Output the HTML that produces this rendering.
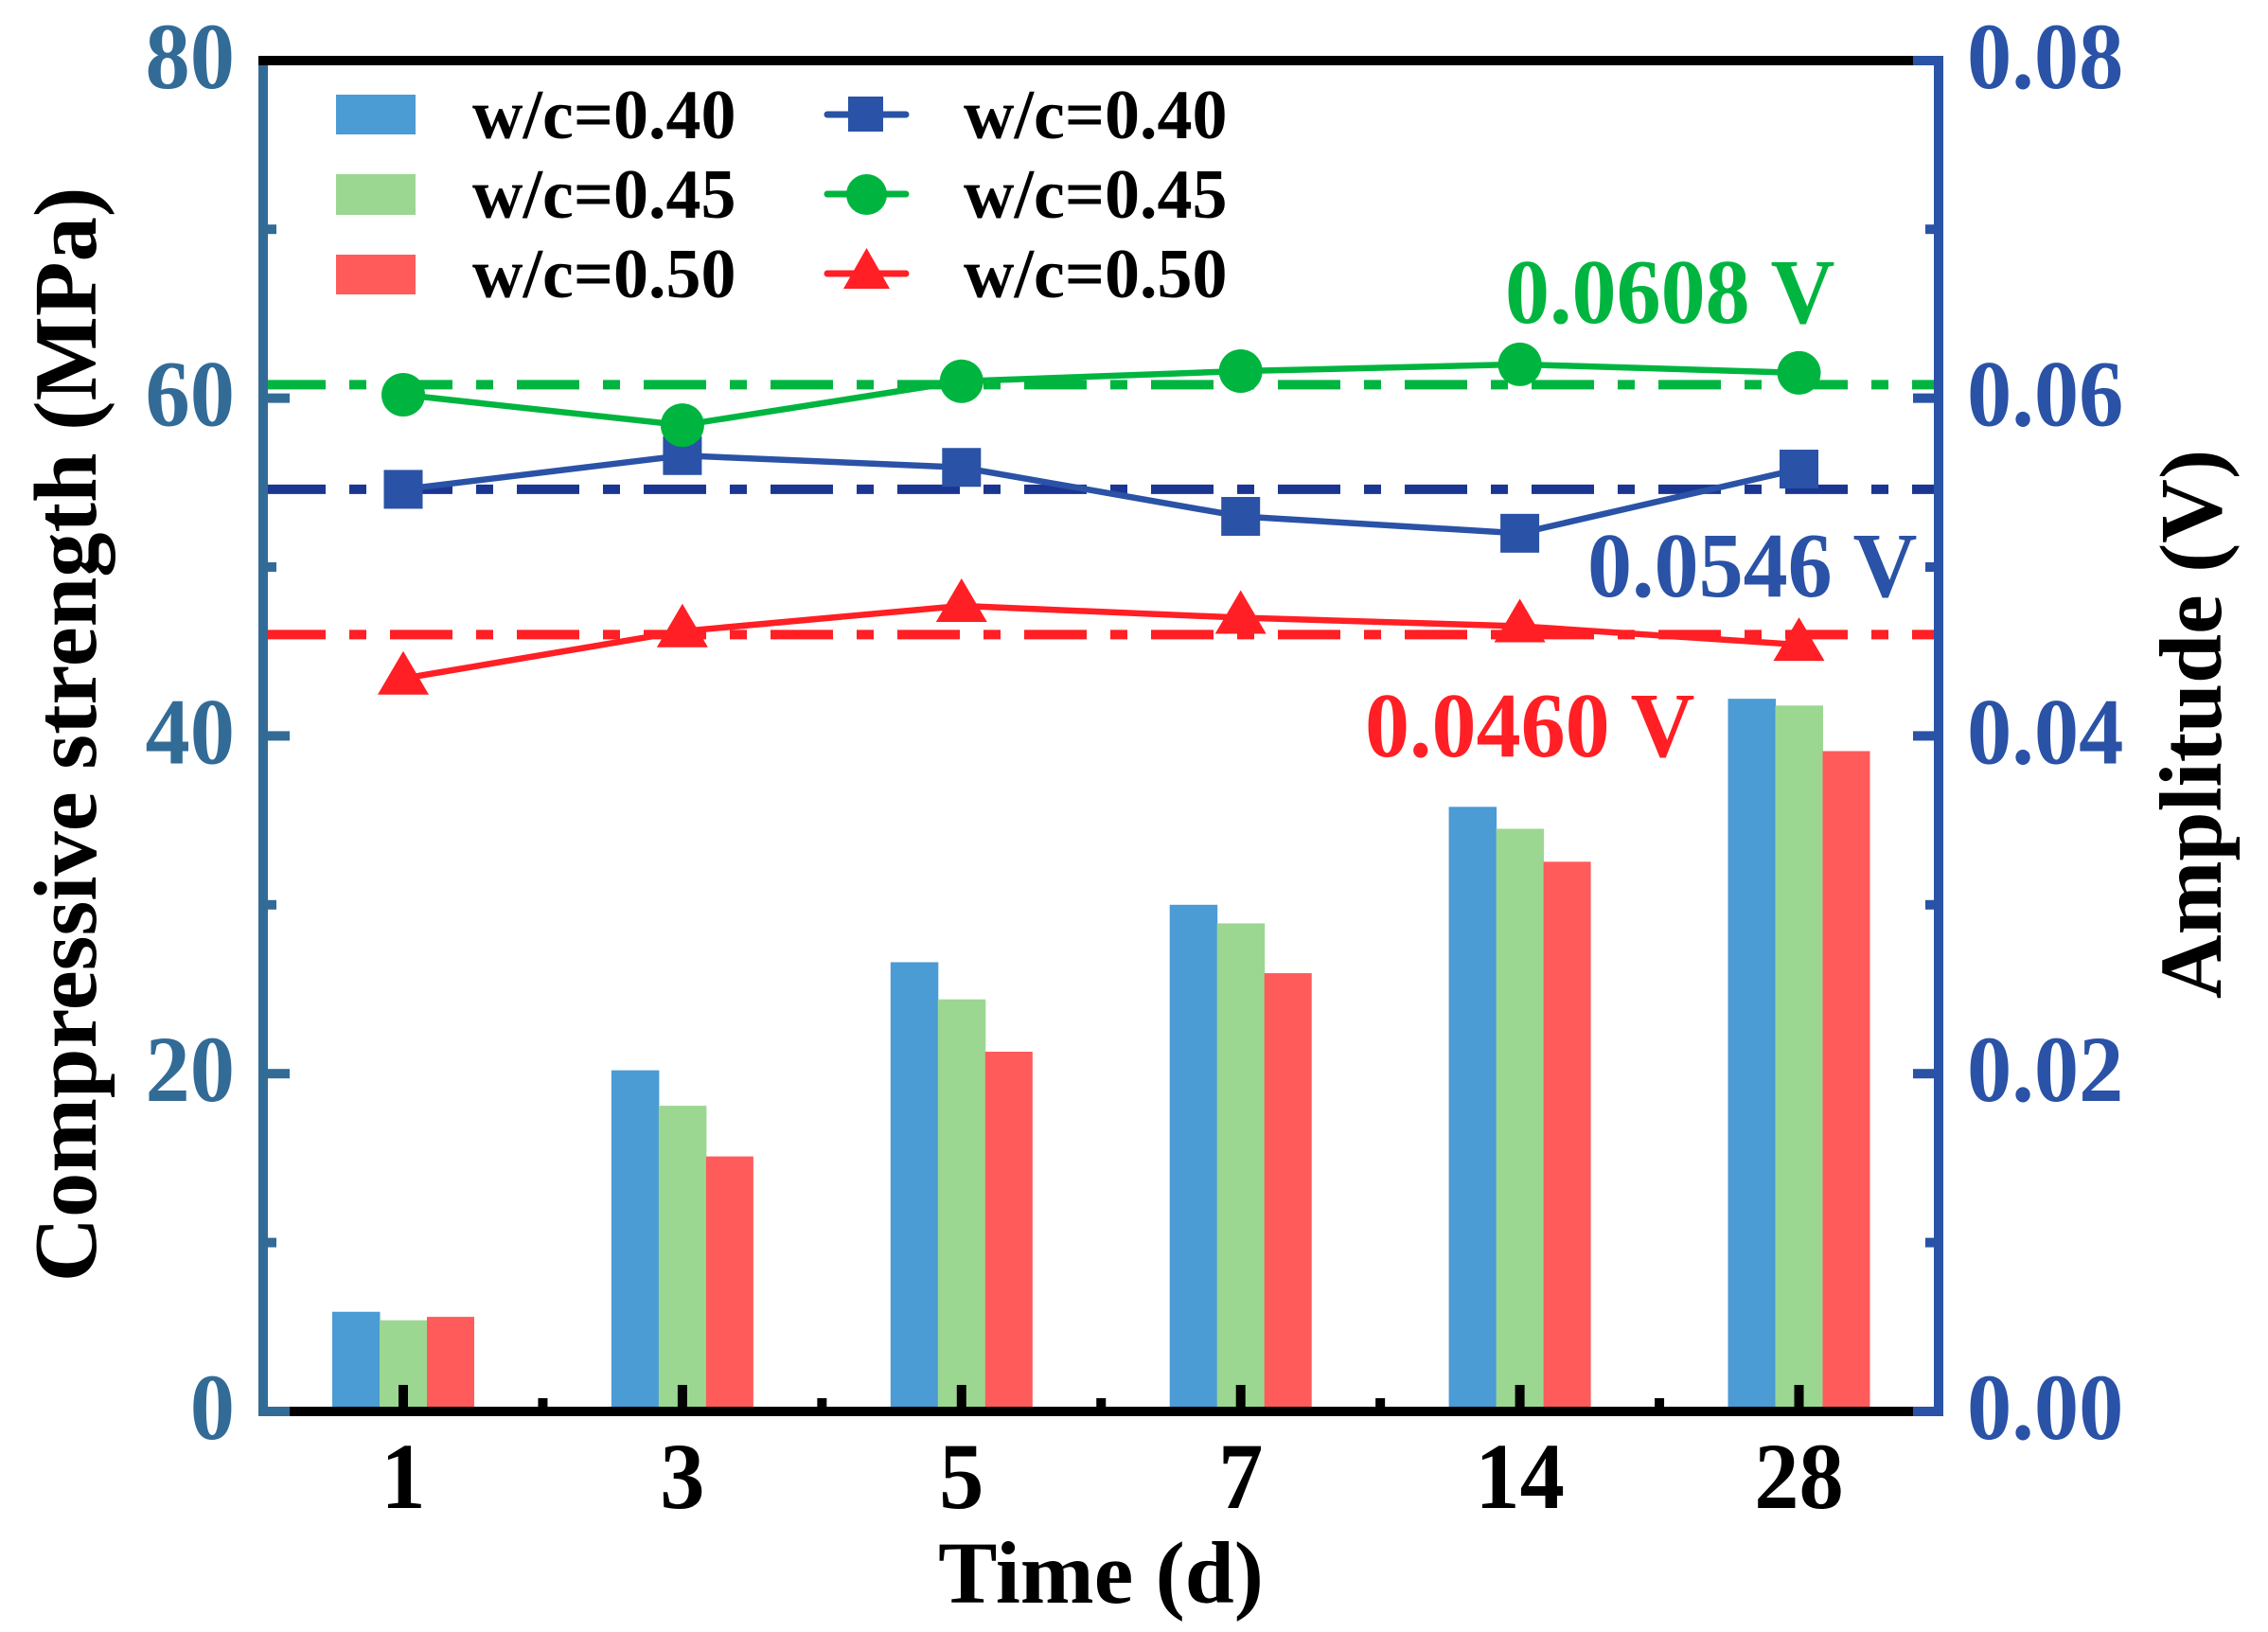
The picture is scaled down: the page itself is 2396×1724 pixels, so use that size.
<!DOCTYPE html>
<html lang="en">
<head>
<meta charset="utf-8">
<title>Compressive strength and amplitude over time</title>
<style>
html,body{margin:0;padding:0;background:#fff;width:2396px;height:1724px;overflow:hidden}
svg{display:block}
text{font-family:"Liberation Serif",serif;font-weight:bold}
</style>
</head>
<body>
<svg id="chart" xmlns="http://www.w3.org/2000/svg" width="2396" height="1724" viewBox="0 0 2396 1724">
  <rect x="0" y="0" width="2396" height="1724" fill="#ffffff"/>
  <g id="bars"></g>
  <g id="ref-lines"></g>
  <g id="series"></g>
  <g id="axes"></g>

  <text x="1163" y="1693" font-size="93.5" text-anchor="middle" fill="#000">Time (d)</text>
  <text transform="translate(101 776) rotate(-90)" font-size="94.5" text-anchor="middle" fill="#000">Compressive strength (MPa)</text>
  <text transform="translate(2346 765) rotate(-90)" font-size="93.7" text-anchor="middle" fill="#000">Amplitude (V)</text>

  <text transform="translate(1590 341) scale(0.97 1)" font-size="97" fill="#00b53f">0.0608 V</text>
  <text transform="translate(1677 630) scale(0.97 1)" font-size="97" fill="#2a52a6">0.0546 V</text>
  <text transform="translate(1442 799) scale(0.97 1)" font-size="97" fill="#ff1f24">0.0460 V</text>

  <g>
    <rect x="355" y="100" width="84" height="42" fill="#4b9bd5"/>
    <rect x="355" y="184" width="84" height="43" fill="#9cd792"/>
    <rect x="355" y="269" width="84" height="42" fill="#ff5b5b"/>
    <text x="499" y="146" font-size="74">w/c=0.40</text>
    <text x="499" y="230" font-size="74">w/c=0.45</text>
    <text x="499" y="314" font-size="74">w/c=0.50</text>

    <line x1="874" x2="957" y1="121" y2="121" stroke="#2a52a6" stroke-width="7" stroke-linecap="round"/>
    <rect x="896" y="102" width="37" height="37" fill="#2a52a6"/>
    <line x1="874" x2="957" y1="205" y2="205" stroke="#00b53f" stroke-width="7" stroke-linecap="round"/>
    <circle cx="915.5" cy="205.5" r="21.5" fill="#00b53f"/>
    <line x1="874" x2="957" y1="289" y2="289" stroke="#ff1f24" stroke-width="7" stroke-linecap="round"/>
    <polygon points="915.5,262 940,305 891,305" fill="#ff1f24"/>
    <text x="1018" y="146" font-size="74">w/c=0.40</text>
    <text x="1018" y="230" font-size="74">w/c=0.45</text>
    <text x="1018" y="314" font-size="74">w/c=0.50</text>
  </g>
</svg>

<script>
const categories = ['1', '3', '5', '7', '14', '28'];
const strength040 = [5.9, 20.2, 26.6, 30.0, 35.8, 42.2];
const strength045 = [5.4, 18.1, 24.4, 28.9, 34.5, 41.8];
const strength050 = [5.6, 15.1, 21.3, 25.95, 32.55, 39.1];
const amplitude040 = [0.0546, 0.0566, 0.0559, 0.0530, 0.0520, 0.0558];
const amplitude045 = [0.0602, 0.0584, 0.0610, 0.0616, 0.0620, 0.0615];
const amplitude050 = [0.0434, 0.0462, 0.0477, 0.0470, 0.0465, 0.0454];
const meanAmplitude040 = 0.0546;
const meanAmplitude045 = 0.0608;
const meanAmplitude050 = 0.0460;
const leftTicks = [0, 20, 40, 60, 80];
const leftTickLabels = ['0', '20', '40', '60', '80'];
const leftMinorTicks = [10, 30, 50, 70];
const rightTicks = [0, 0.02, 0.04, 0.06, 0.08];
const rightTickLabels = ['0.00', '0.02', '0.04', '0.06', '0.08'];
const rightMinorTicks = [0.01, 0.03, 0.05, 0.07];

const NS = 'http://www.w3.org/2000/svg';
const LEFT_AXIS = '#336b97';
const RIGHT_AXIS = '#2a52a6';
const GREEN = '#00b53f';
const RED = '#ff1f24';
const TICK_FONT = 100;
const TICK_SQUEEZE = 0.945;

function xAt(i) { return 426 + i * 294.9; }
function yLeft(v) { return 1491 - v * 17.84; }
function yRight(v) { return 1491 - v * 17840; }

function make(tag, attrs, parent) {
  const el = document.createElementNS(NS, tag);
  Object.keys(attrs).forEach(function (k) { el.setAttribute(k, attrs[k]); });
  parent.appendChild(el);
  return el;
}

function squeezed(x, y) {
  return 'translate(' + x + ' ' + y + ') scale(' + TICK_SQUEEZE + ' 1)';
}

const barsGroup = document.getElementById('bars');
const refGroup = document.getElementById('ref-lines');
const seriesGroup = document.getElementById('series');
const axesGroup = document.getElementById('axes');

/* bars */
const BAR_W = 50;
[[strength040, '#4b9bd5', '040'], [strength045, '#9cd792', '045'], [strength050, '#ff5b5b', '050']].forEach(function (s, j) {
  s[0].forEach(function (v, i) {
    const el = make('rect', {
      x: xAt(i) - 75 + j * BAR_W,
      y: yLeft(v),
      width: BAR_W + (j < 2 ? 0.5 : 0),
      height: yLeft(0) - yLeft(v),
      fill: s[1]
    }, barsGroup);
    
    
  });
});

/* mean reference lines */
[[meanAmplitude045, GREEN, '045'], [meanAmplitude040, '#1b3692', '040'], [meanAmplitude050, RED, '050']].forEach(function (s) {
  const el = make('line', {
    x1: 278, x2: 2043, y1: yRight(s[0]), y2: yRight(s[0]),
    stroke: s[1], 'stroke-width': 10, 'stroke-dasharray': '66 25 18 25'
  }, refGroup);
  
  
});

/* line series */
function polyline(values, color, key) {
  const pts = values.map(function (v, i) { return xAt(i) + ',' + yRight(v); }).join(' ');
  const el = make('polyline', { points: pts, fill: 'none', stroke: color, 'stroke-width': 6.5 }, seriesGroup);
  
  
}
polyline(amplitude040, RIGHT_AXIS, '040');
polyline(amplitude045, GREEN, '045');
polyline(amplitude050, RED, '050');

amplitude040.forEach(function (v, i) {
  const el = make('rect', { x: xAt(i) - 20.5, y: yRight(v) - 20.5, width: 41, height: 41, fill: RIGHT_AXIS }, seriesGroup);
  
  
});
amplitude045.forEach(function (v, i) {
  const el = make('circle', { cx: xAt(i), cy: yRight(v), r: 23, fill: GREEN }, seriesGroup);
  
  
});
amplitude050.forEach(function (v, i) {
  const cx = xAt(i), cy = yRight(v);
  const pts = cx + ',' + (cy - 29) + ' ' + (cx + 27) + ',' + (cy + 17) + ' ' + (cx - 27) + ',' + (cy + 17);
  const el = make('polygon', { points: pts, fill: RED }, seriesGroup);
  
  
});

/* spines */
function box(x, y, w, h, fill, name) {
  const el = make('rect', { x: x, y: y, width: w, height: h, fill: fill }, axesGroup);
  
  
}
box(273, 59, 10, 1437, LEFT_AXIS, 'left-y-axis-line');
box(2043, 59, 10, 1437, RIGHT_AXIS, 'right-y-axis-line');
box(273, 59, 1748, 10, '#000000', 'top-axis-line');
box(2021, 59, 32, 10, RIGHT_AXIS, 'top-axis-right-cap');
box(306, 1486, 1715, 10, '#000000', 'x-axis-line');
box(273, 1486, 33, 10, LEFT_AXIS, 'x-axis-left-cap');
box(2021, 1486, 32, 10, RIGHT_AXIS, 'x-axis-right-cap');

/* left ticks */
leftTicks.forEach(function (v, i) {
  if (v !== 0 && v !== 80) {
    box(283, yLeft(v) - 5, 23, 10, LEFT_AXIS, 'left-major-tick-' + v);
  }
  const t = make('text', { transform: squeezed(248, yLeft(v) + 29), 'font-size': TICK_FONT, 'text-anchor': 'end', fill: LEFT_AXIS }, axesGroup);
  t.textContent = leftTickLabels[i];
  
  
});
leftMinorTicks.forEach(function (v) {
  box(283, yLeft(v) - 5, 9, 10, LEFT_AXIS, 'left-minor-tick-' + v);
});

/* right ticks */
rightTicks.forEach(function (v, i) {
  if (v !== 0 && v !== 0.08) {
    box(2021, yRight(v) - 5, 22, 10, RIGHT_AXIS, 'right-major-tick-' + v);
  }
  const t = make('text', { transform: squeezed(2078, yRight(v) + 29), 'font-size': TICK_FONT, fill: RIGHT_AXIS }, axesGroup);
  t.textContent = rightTickLabels[i];
  
  
});
rightMinorTicks.forEach(function (v) {
  box(2034, yRight(v) - 5, 9, 10, RIGHT_AXIS, 'right-minor-tick-' + v);
});

/* x ticks */
categories.forEach(function (c, i) {
  box(xAt(i) - 5, 1463, 10, 23, '#000000', 'x-major-tick-' + c);
  if (i < categories.length - 1) {
    box(xAt(i + 0.5) - 5, 1477, 10, 9, '#000000', 'x-minor-tick-' + c);
  }
  const t = make('text', { transform: squeezed(xAt(i), 1593), 'font-size': TICK_FONT, 'text-anchor': 'middle', fill: '#000' }, axesGroup);
  t.textContent = c;
  
  
});
</script>
</body>
</html>
